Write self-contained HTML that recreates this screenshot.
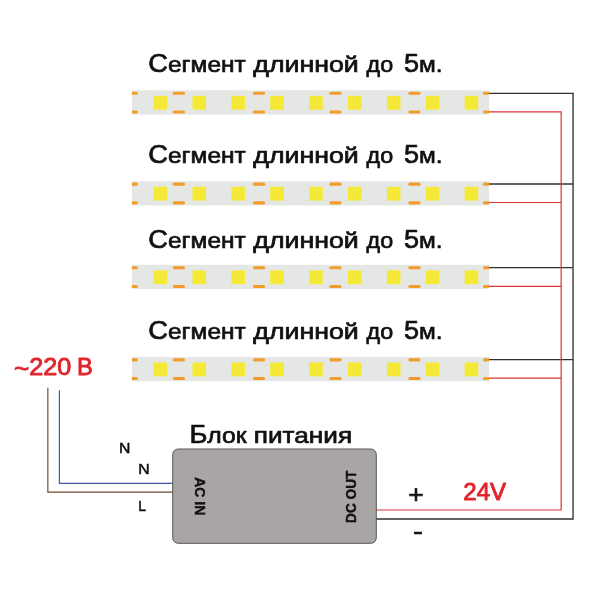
<!DOCTYPE html>
<html lang="ru">
<head>
<meta charset="utf-8">
<title>Схема подключения светодиодной ленты 24V</title>
<style>
html,body{margin:0;padding:0;background:#fff;}
body{width:600px;height:600px;overflow:hidden;font-family:"Liberation Sans",sans-serif;}
#wrap{width:600px;height:600px;will-change:transform;}
svg{display:block;}
text{font-family:"Liberation Sans",sans-serif;}
.t{font-size:22.7px;fill:#111;stroke:#111;stroke-width:.7px;stroke-linejoin:round;}
.c{font-size:25.2px;}
.p{font-size:26.5px;fill:#111;stroke:#111;stroke-width:.65px;}
.m{font-size:24px;fill:#111;stroke:#111;stroke-width:.6px;}
.r{font-size:24.2px;fill:#e1242b;stroke:#e1242b;stroke-width:.9px;stroke-linejoin:round;}
.s{font-size:13.9px;fill:#111;stroke:#111;stroke-width:.5px;}
.b{font-size:14.7px;font-weight:bold;fill:#111;stroke:#111;stroke-width:.4px;}
.bk{stroke:#303030;stroke-width:1.35;fill:none;}
.rd{stroke:#dc3236;stroke-width:1.2;fill:none;}
</style>
</head>
<body>
<div id="wrap">
<svg width="600" height="600" viewBox="0 0 600 600">
<rect width="600" height="600" fill="#fff"/>

<path class="bk" d="M488.0 93.35H573.05V519.0H376"/>
<path class="bk" d="M488.0 184.0H573.05"/>
<path class="bk" d="M488.0 267.6H573.05"/>
<path class="bk" d="M488.0 359.6H573.05"/>
<path class="rd" d="M488.0 111.85H561.15V510.0H376"/>
<path class="rd" d="M488.0 202.5H561.15"/>
<path class="rd" d="M488.0 286.4H561.15"/>
<path class="rd" d="M488.0 378.2H561.15"/>
<path d="M47.85 387.8V492.1H173" fill="none" stroke="#70492f" stroke-width="1.15"/>
<path d="M59.4 390.2V483.4H173" fill="none" stroke="#4852a4" stroke-width="1.15"/>
<g transform="translate(0 90.3)">
<rect x="131.9" y="0" width="357.1" height="24.3" fill="#e5e7e4"/>
<rect x="153.6" y="5.6" width="13.6" height="13.8" fill="#f4e936"/>
<rect x="192.5" y="5.6" width="13.6" height="13.8" fill="#f4e936"/>
<rect x="231.3" y="5.6" width="13.6" height="13.8" fill="#f4e936"/>
<rect x="270.2" y="5.6" width="13.6" height="13.8" fill="#f4e936"/>
<rect x="309.1" y="5.6" width="13.6" height="13.8" fill="#f4e936"/>
<rect x="348.0" y="5.6" width="13.6" height="13.8" fill="#f4e936"/>
<rect x="386.9" y="5.6" width="13.6" height="13.8" fill="#f4e936"/>
<rect x="425.7" y="5.6" width="13.6" height="13.8" fill="#f4e936"/>
<rect x="464.6" y="5.6" width="13.6" height="13.8" fill="#f4e936"/>
<rect x="172.7" y="1.40" width="12.3" height="3.1" rx="1.55" fill="#f39c2c"/>
<rect x="172.7" y="20.10" width="12.3" height="3.1" rx="1.55" fill="#f39c2c"/>
<rect x="252.9" y="1.40" width="12.3" height="3.1" rx="1.55" fill="#f39c2c"/>
<rect x="252.9" y="20.10" width="12.3" height="3.1" rx="1.55" fill="#f39c2c"/>
<rect x="329.3" y="1.40" width="12.3" height="3.1" rx="1.55" fill="#f39c2c"/>
<rect x="329.3" y="20.10" width="12.3" height="3.1" rx="1.55" fill="#f39c2c"/>
<rect x="408.3" y="1.40" width="12.3" height="3.1" rx="1.55" fill="#f39c2c"/>
<rect x="408.3" y="20.10" width="12.3" height="3.1" rx="1.55" fill="#f39c2c"/>
<path d="M131.9 1.40h4.5a1.55 1.55 0 0 1 0 3.1h-4.5z" fill="#f39c2c"/>
<path d="M489.0 1.40h-4.5a1.55 1.55 0 0 0 0 3.1h4.5z" fill="#f39c2c"/>
<path d="M131.9 20.10h4.5a1.55 1.55 0 0 1 0 3.1h-4.5z" fill="#f39c2c"/>
<path d="M489.0 20.10h-4.5a1.55 1.55 0 0 0 0 3.1h4.5z" fill="#f39c2c"/>
</g>
<g transform="translate(0 181.2)">
<rect x="131.9" y="0" width="357.1" height="24.3" fill="#e5e7e4"/>
<rect x="153.6" y="5.6" width="13.6" height="13.8" fill="#f4e936"/>
<rect x="192.5" y="5.6" width="13.6" height="13.8" fill="#f4e936"/>
<rect x="231.3" y="5.6" width="13.6" height="13.8" fill="#f4e936"/>
<rect x="270.2" y="5.6" width="13.6" height="13.8" fill="#f4e936"/>
<rect x="309.1" y="5.6" width="13.6" height="13.8" fill="#f4e936"/>
<rect x="348.0" y="5.6" width="13.6" height="13.8" fill="#f4e936"/>
<rect x="386.9" y="5.6" width="13.6" height="13.8" fill="#f4e936"/>
<rect x="425.7" y="5.6" width="13.6" height="13.8" fill="#f4e936"/>
<rect x="464.6" y="5.6" width="13.6" height="13.8" fill="#f4e936"/>
<rect x="172.7" y="1.40" width="12.3" height="3.1" rx="1.55" fill="#f39c2c"/>
<rect x="172.7" y="20.10" width="12.3" height="3.1" rx="1.55" fill="#f39c2c"/>
<rect x="252.9" y="1.40" width="12.3" height="3.1" rx="1.55" fill="#f39c2c"/>
<rect x="252.9" y="20.10" width="12.3" height="3.1" rx="1.55" fill="#f39c2c"/>
<rect x="329.3" y="1.40" width="12.3" height="3.1" rx="1.55" fill="#f39c2c"/>
<rect x="329.3" y="20.10" width="12.3" height="3.1" rx="1.55" fill="#f39c2c"/>
<rect x="408.3" y="1.40" width="12.3" height="3.1" rx="1.55" fill="#f39c2c"/>
<rect x="408.3" y="20.10" width="12.3" height="3.1" rx="1.55" fill="#f39c2c"/>
<path d="M131.9 1.40h4.5a1.55 1.55 0 0 1 0 3.1h-4.5z" fill="#f39c2c"/>
<path d="M489.0 1.40h-4.5a1.55 1.55 0 0 0 0 3.1h4.5z" fill="#f39c2c"/>
<path d="M131.9 20.10h4.5a1.55 1.55 0 0 1 0 3.1h-4.5z" fill="#f39c2c"/>
<path d="M489.0 20.10h-4.5a1.55 1.55 0 0 0 0 3.1h4.5z" fill="#f39c2c"/>
</g>
<g transform="translate(0 264.8)">
<rect x="131.9" y="0" width="357.1" height="24.3" fill="#e5e7e4"/>
<rect x="153.6" y="5.6" width="13.6" height="13.8" fill="#f4e936"/>
<rect x="192.5" y="5.6" width="13.6" height="13.8" fill="#f4e936"/>
<rect x="231.3" y="5.6" width="13.6" height="13.8" fill="#f4e936"/>
<rect x="270.2" y="5.6" width="13.6" height="13.8" fill="#f4e936"/>
<rect x="309.1" y="5.6" width="13.6" height="13.8" fill="#f4e936"/>
<rect x="348.0" y="5.6" width="13.6" height="13.8" fill="#f4e936"/>
<rect x="386.9" y="5.6" width="13.6" height="13.8" fill="#f4e936"/>
<rect x="425.7" y="5.6" width="13.6" height="13.8" fill="#f4e936"/>
<rect x="464.6" y="5.6" width="13.6" height="13.8" fill="#f4e936"/>
<rect x="172.7" y="1.40" width="12.3" height="3.1" rx="1.55" fill="#f39c2c"/>
<rect x="172.7" y="20.10" width="12.3" height="3.1" rx="1.55" fill="#f39c2c"/>
<rect x="252.9" y="1.40" width="12.3" height="3.1" rx="1.55" fill="#f39c2c"/>
<rect x="252.9" y="20.10" width="12.3" height="3.1" rx="1.55" fill="#f39c2c"/>
<rect x="329.3" y="1.40" width="12.3" height="3.1" rx="1.55" fill="#f39c2c"/>
<rect x="329.3" y="20.10" width="12.3" height="3.1" rx="1.55" fill="#f39c2c"/>
<rect x="408.3" y="1.40" width="12.3" height="3.1" rx="1.55" fill="#f39c2c"/>
<rect x="408.3" y="20.10" width="12.3" height="3.1" rx="1.55" fill="#f39c2c"/>
<path d="M131.9 1.40h4.5a1.55 1.55 0 0 1 0 3.1h-4.5z" fill="#f39c2c"/>
<path d="M489.0 1.40h-4.5a1.55 1.55 0 0 0 0 3.1h4.5z" fill="#f39c2c"/>
<path d="M131.9 20.10h4.5a1.55 1.55 0 0 1 0 3.1h-4.5z" fill="#f39c2c"/>
<path d="M489.0 20.10h-4.5a1.55 1.55 0 0 0 0 3.1h4.5z" fill="#f39c2c"/>
</g>
<g transform="translate(0 356.9)">
<rect x="131.9" y="0" width="357.1" height="24.3" fill="#e5e7e4"/>
<rect x="153.6" y="5.6" width="13.6" height="13.8" fill="#f4e936"/>
<rect x="192.5" y="5.6" width="13.6" height="13.8" fill="#f4e936"/>
<rect x="231.3" y="5.6" width="13.6" height="13.8" fill="#f4e936"/>
<rect x="270.2" y="5.6" width="13.6" height="13.8" fill="#f4e936"/>
<rect x="309.1" y="5.6" width="13.6" height="13.8" fill="#f4e936"/>
<rect x="348.0" y="5.6" width="13.6" height="13.8" fill="#f4e936"/>
<rect x="386.9" y="5.6" width="13.6" height="13.8" fill="#f4e936"/>
<rect x="425.7" y="5.6" width="13.6" height="13.8" fill="#f4e936"/>
<rect x="464.6" y="5.6" width="13.6" height="13.8" fill="#f4e936"/>
<rect x="172.7" y="1.40" width="12.3" height="3.1" rx="1.55" fill="#f39c2c"/>
<rect x="172.7" y="20.10" width="12.3" height="3.1" rx="1.55" fill="#f39c2c"/>
<rect x="252.9" y="1.40" width="12.3" height="3.1" rx="1.55" fill="#f39c2c"/>
<rect x="252.9" y="20.10" width="12.3" height="3.1" rx="1.55" fill="#f39c2c"/>
<rect x="329.3" y="1.40" width="12.3" height="3.1" rx="1.55" fill="#f39c2c"/>
<rect x="329.3" y="20.10" width="12.3" height="3.1" rx="1.55" fill="#f39c2c"/>
<rect x="408.3" y="1.40" width="12.3" height="3.1" rx="1.55" fill="#f39c2c"/>
<rect x="408.3" y="20.10" width="12.3" height="3.1" rx="1.55" fill="#f39c2c"/>
<path d="M131.9 1.40h4.5a1.55 1.55 0 0 1 0 3.1h-4.5z" fill="#f39c2c"/>
<path d="M489.0 1.40h-4.5a1.55 1.55 0 0 0 0 3.1h4.5z" fill="#f39c2c"/>
<path d="M131.9 20.10h4.5a1.55 1.55 0 0 1 0 3.1h-4.5z" fill="#f39c2c"/>
<path d="M489.0 20.10h-4.5a1.55 1.55 0 0 0 0 3.1h4.5z" fill="#f39c2c"/>
</g>
<text class="t" y="71.6"><tspan x="148.3" textLength="97.5" lengthAdjust="spacingAndGlyphs"><tspan class="c">С</tspan>егмент</tspan> <tspan x="253.3" textLength="105.5" lengthAdjust="spacingAndGlyphs">длинной</tspan> <tspan x="366.6" textLength="26.6" lengthAdjust="spacingAndGlyphs">до</tspan> <tspan x="404" textLength="38.6" lengthAdjust="spacingAndGlyphs"><tspan class="c">5</tspan>м.</tspan></text>
<text class="t" y="162.6"><tspan x="148.3" textLength="97.5" lengthAdjust="spacingAndGlyphs"><tspan class="c">С</tspan>егмент</tspan> <tspan x="253.3" textLength="105.5" lengthAdjust="spacingAndGlyphs">длинной</tspan> <tspan x="366.6" textLength="26.6" lengthAdjust="spacingAndGlyphs">до</tspan> <tspan x="404" textLength="38.6" lengthAdjust="spacingAndGlyphs"><tspan class="c">5</tspan>м.</tspan></text>
<text class="t" y="248.3"><tspan x="148.3" textLength="97.5" lengthAdjust="spacingAndGlyphs"><tspan class="c">С</tspan>егмент</tspan> <tspan x="253.3" textLength="105.5" lengthAdjust="spacingAndGlyphs">длинной</tspan> <tspan x="366.6" textLength="26.6" lengthAdjust="spacingAndGlyphs">до</tspan> <tspan x="404" textLength="38.6" lengthAdjust="spacingAndGlyphs"><tspan class="c">5</tspan>м.</tspan></text>
<text class="t" y="339.45"><tspan x="148.3" textLength="97.5" lengthAdjust="spacingAndGlyphs"><tspan class="c">С</tspan>егмент</tspan> <tspan x="253.3" textLength="105.5" lengthAdjust="spacingAndGlyphs">длинной</tspan> <tspan x="366.6" textLength="26.6" lengthAdjust="spacingAndGlyphs">до</tspan> <tspan x="404" textLength="38.6" lengthAdjust="spacingAndGlyphs"><tspan class="c">5</tspan>м.</tspan></text>
<rect x="172.7" y="449" width="203.6" height="94.3" rx="5.5" fill="#a9a5a5" stroke="#505050" stroke-width="0.95"/>
<text class="t" y="443.45"><tspan x="189.4" textLength="57.2" lengthAdjust="spacingAndGlyphs"><tspan class="c">Б</tspan>лок</tspan> <tspan x="253.8" textLength="98.3" lengthAdjust="spacingAndGlyphs">питания</tspan></text>
<text class="b" transform="translate(194.9 477.2) rotate(90)" textLength="38.2" lengthAdjust="spacingAndGlyphs">AC IN</text>
<text class="b" transform="translate(355.9 522.9) rotate(-90)" textLength="52.2" lengthAdjust="spacingAndGlyphs">DC OUT</text>
<text class="r" y="375.2"><tspan x="14.0" dy="1.7" textLength="15.3" lengthAdjust="spacingAndGlyphs">~</tspan><tspan x="29.2" dy="-1.7" textLength="42.0" lengthAdjust="spacingAndGlyphs">220</tspan> <tspan x="76.9" textLength="15.8" lengthAdjust="spacingAndGlyphs">В</tspan></text>
<text class="r" x="463.3" y="500.3" textLength="42.8" lengthAdjust="spacingAndGlyphs" style="font-size:23.8px">24V</text>
<text class="s" x="119.0" y="452.8" textLength="11.4" lengthAdjust="spacingAndGlyphs">N</text>
<text class="s" x="138.3" y="474.2" textLength="11.4" lengthAdjust="spacingAndGlyphs">N</text>
<text class="s" x="138.3" y="510.6">L</text>
<text class="p" x="408.2" y="503.3">+</text>
<text class="m" x="413" y="539.0" textLength="10" lengthAdjust="spacingAndGlyphs">-</text>
</svg>
</div>
</body>
</html>
